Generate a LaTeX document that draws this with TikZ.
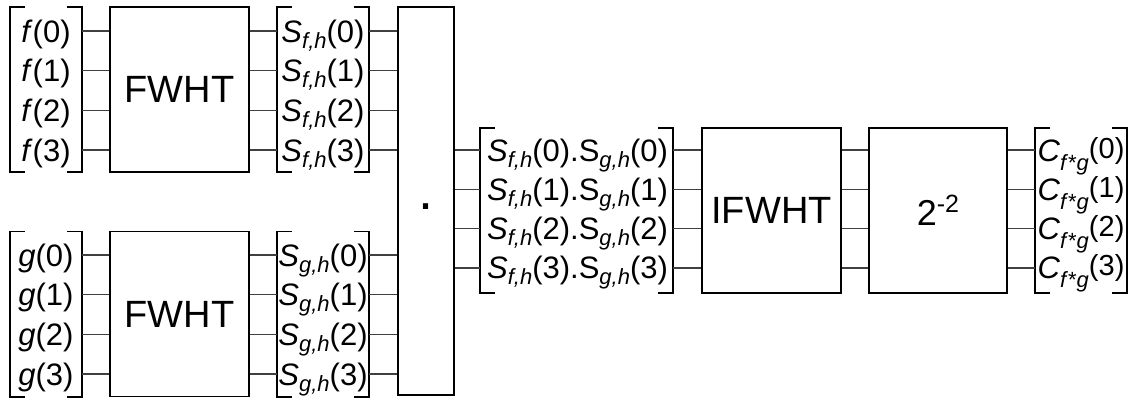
\documentclass[tikz,border=0pt]{standalone}
\usepackage{fontspec}
\setmainfont{Liberation Sans}

% lowered subscript: optional drop, then content
\newcommand\sbs[2][6pt]{\raisebox{-#1}{\fontsize{22}{22}\selectfont #2}}
\newcommand\Sfh[1]{\textit{S}\sbs{\textit{f,h}}(#1)}
\newcommand\Sgh[1]{\textit{S}\sbs{\textit{g,h}}(#1)}
\newcommand\Prod[1]{\textit{S}\sbs{\textit{f,h}}(#1).S\sbs{\textit{g,h}}(#1)}
\newcommand\Cfg[1]{\textit{C}\sbs[9pt]{\textit{f}*\textit{g}}\raisebox{3pt}{\fontsize{29}{29}\selectfont(#1)}}

% square brackets on both sides of a node
\newcommand\bracketpair[2]{%
  \draw[brkline] ([xshift=#2]#1.north west) -- (#1.north west) -- (#1.south west) -- ([xshift=#2]#1.south west);
  \draw[brkline] ([xshift=-#2]#1.north east) -- (#1.north east) -- (#1.south east) -- ([xshift=-#2]#1.south east);
}

\tikzset{
  blk/.style={draw=black, line width=1.5pt, inner sep=0pt, font=\fontsize{38}{38}\selectfont},
  wire/.style={draw=black!75, line width=1.2pt},
  brk/.style={inner sep=0pt, minimum height=165pt},
  brkline/.style={draw=black, line width=1.6pt},
  lbl/.style={inner sep=0pt, text height=22pt, text depth=0pt, font=\fontsize{31}{31}\selectfont},
}

\begin{document}
\begin{tikzpicture}[x=1pt, y=-1pt]
\useasboundingbox (0,0) rectangle (1131,399);

% ---- upper branch: f -> FWHT -> S_{f,h}
\node[brk, minimum width=72pt] (fin) at (46,89.5) {};
\node[blk, minimum width=139pt, minimum height=165pt] (ffw) at (179.5,89.5) {FWHT};
\node[brk, minimum width=92pt] (sf) at (323,89.5) {};
\foreach \i in {0,...,3} {
  \node[lbl] (f\i) at (46,{31+39.67*\i}) {\textit{f}(\i)};
  \node[lbl] (sf\i) at (323,{31+39.67*\i}) {\Sfh{\i}};
}

% ---- lower branch: g -> FWHT -> S_{g,h}
\node[brk, minimum width=72pt] (gin) at (46,314) {};
\node[blk, minimum width=139pt, minimum height=165pt] (gfw) at (179.5,314) {FWHT};
\node[brk, minimum width=92pt] (sg) at (323,314) {};
\foreach \i in {0,...,3} {
  \node[lbl] (g\i) at (46,{255+39.67*\i}) {\textit{g}(\i)};
  \node[lbl] (sg\i) at (323,{255+39.67*\i}) {\Sgh{\i}};
}

% ---- pointwise product
\node[blk, minimum width=56pt, minimum height=388pt] (mul) at (426,201) {};
\node[inner sep=0pt, font=\fontsize{54}{54}\selectfont] (dotsym) at (426,207) {.};

% ---- product -> IFWHT -> scaling -> result
\node[brk, minimum width=193pt] (pb) at (576.5,210.5) {};
\node[blk, minimum width=139pt, minimum height=165pt] (ifw) at (771.5,210.5) {IFWHT};
\node[blk, minimum width=138pt, minimum height=165pt] (sc) at (938,210.5)
  {\fontsize{36}{36}\selectfont 2\raisebox{13pt}{\fontsize{25}{25}\selectfont -2}};
\node[brk, minimum width=92pt] (cb) at (1081,210.5) {};
\foreach \i in {0,...,3} {
  \node[lbl] (p\i) at (577.5,{150+39.33*\i}) {\Prod{\i}};
  \node[lbl] (c\i) at (1081,{150+39.33*\i}) {\Cfg{\i}};
}

% ---- brackets
\bracketpair{fin}{15pt}
\bracketpair{sf}{15pt}
\bracketpair{gin}{15pt}
\bracketpair{sg}{15pt}
\bracketpair{pb}{15pt}
\bracketpair{cb}{15pt}

% ---- wires
\foreach \i in {0,...,3} {
  \draw[wire] (fin.east |- f\i) -- (ffw.west |- f\i);
  \draw[wire] (ffw.east |- sf\i) -- (sf.west |- sf\i);
  \draw[wire] (sf.east |- sf\i) -- (mul.west |- sf\i);
  \draw[wire] (gin.east |- g\i) -- (gfw.west |- g\i);
  \draw[wire] (gfw.east |- sg\i) -- (sg.west |- sg\i);
  \draw[wire] (sg.east |- sg\i) -- (mul.west |- sg\i);
  \draw[wire] (mul.east |- p\i) -- (pb.west |- p\i);
  \draw[wire] (pb.east |- p\i) -- (ifw.west |- p\i);
  \draw[wire] (ifw.east |- p\i) -- (sc.west |- p\i);
  \draw[wire] (sc.east |- c\i) -- (cb.west |- c\i);
}
\end{tikzpicture}
\end{document}
